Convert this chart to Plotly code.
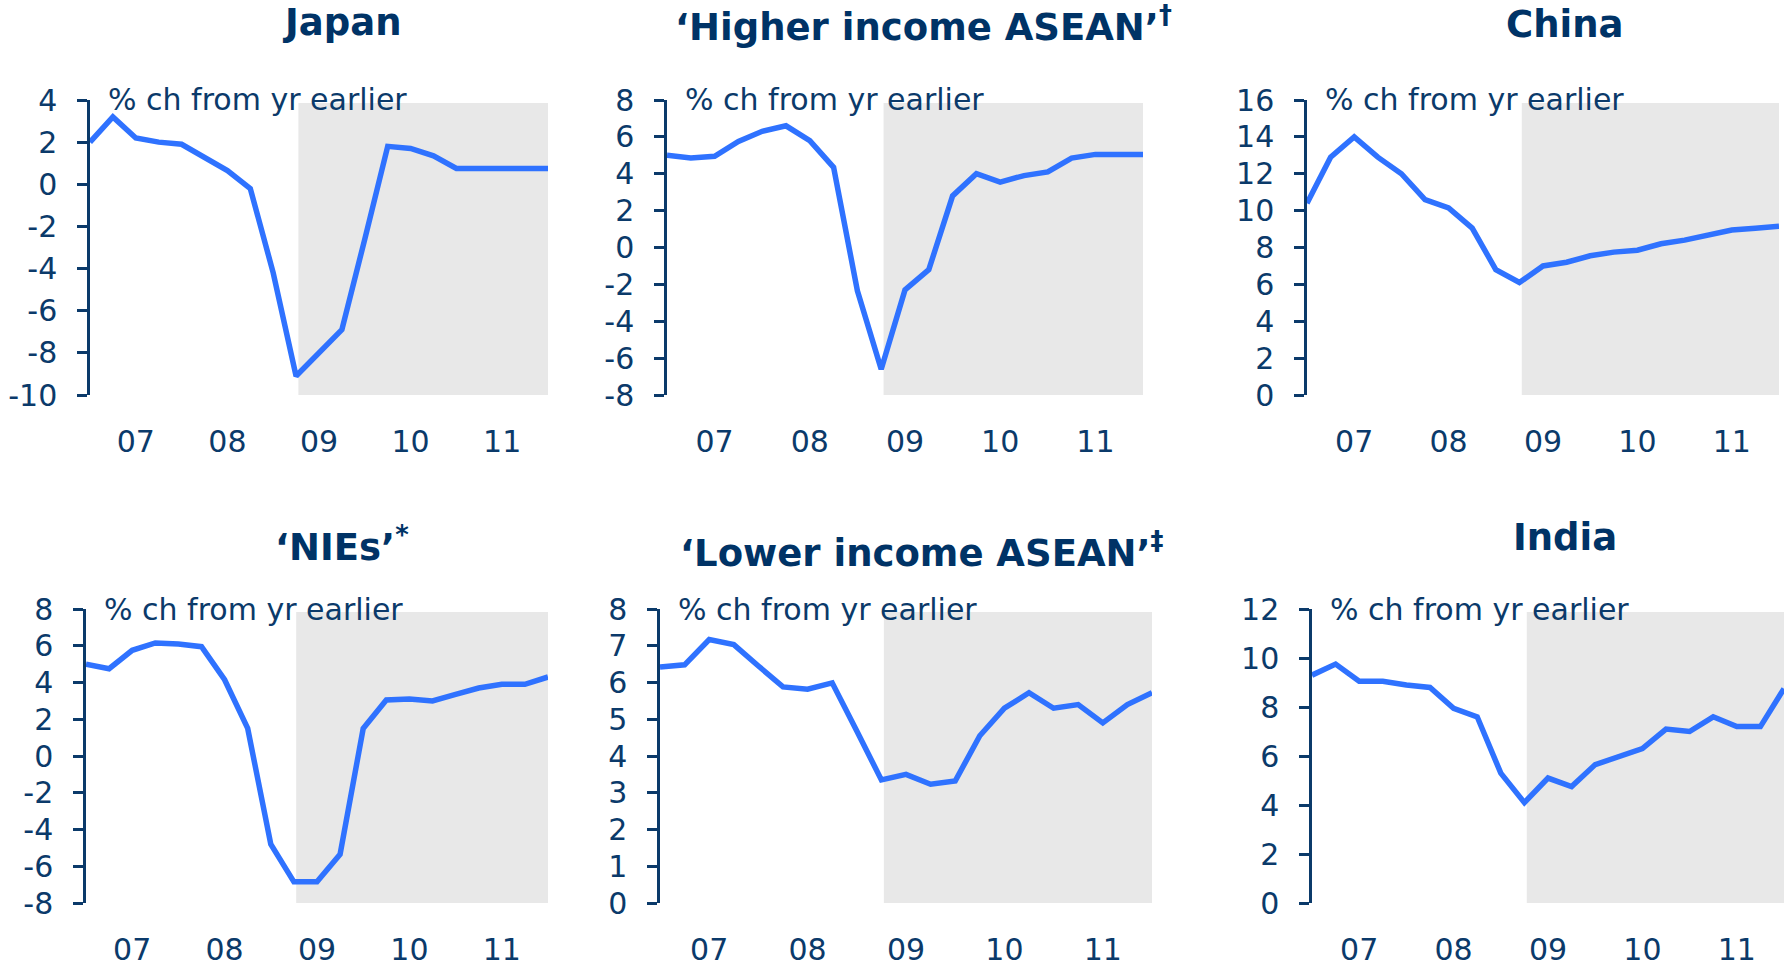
"""
Six-panel GDP growth chart (Asia), % change from a year earlier.
"""

import plotly.graph_objects as go

W, H = 1787, 968

# quarterly points, index 0..20 (ticks every 4 = year boundaries)
quarters = list(range(21))
year_labels = ['07', '08', '09', '10', '11']
year_label_pos = [2, 6, 10, 14, 18]
year_tick_pos = [0, 4, 8, 12, 16, 20]
forecast_start = 9.1

japan = [2.0, 3.2, 2.2, 2.0, 1.9, 1.3, 0.65, -0.2, -4.2, -9.1, -8.0, -6.9,
         -2.6, 1.8, 1.7, 1.35, 0.75, 0.75, 0.75, 0.75, 0.75]
higher_asean = [5.0, 4.85, 4.95, 5.75, 6.3, 6.6, 5.8, 4.35, -2.35, -6.6, -2.3,
                -1.2, 2.8, 4.0, 3.55, 3.9, 4.1, 4.85, 5.05, 5.05, 5.05]
china = [10.4, 12.9, 14.0, 12.9, 12.0, 10.6, 10.15, 9.05, 6.8, 6.1, 7.0, 7.2,
         7.55, 7.75, 7.85, 8.2, 8.4, 8.7, 8.95, 9.05, 9.15]
nies = [5.0, 4.75, 5.75, 6.15, 6.1, 5.95, 4.15, 1.5, -4.8, -6.85, -6.85, -5.35,
        1.5, 3.05, 3.1, 3.0, 3.35, 3.7, 3.9, 3.9, 4.3]
lower_asean = [6.42, 6.48, 7.17, 7.03, 6.45, 5.88, 5.82, 5.99, 4.68, 3.35, 3.5,
               3.23, 3.32, 4.55, 5.3, 5.72, 5.3, 5.4, 4.9, 5.4, 5.72]
india = [9.3, 9.75, 9.05, 9.05, 8.9, 8.8, 7.95, 7.6, 5.3, 4.1, 5.1, 4.75,
         5.65, 5.95, 6.3, 7.1, 7.0, 7.6, 7.2, 7.2, 8.75]

titles = ['Japan', '‘Higher income ASEAN’<sup>†</sup>', 'China',
          '‘NIEs’<sup>*</sup>', '‘Lower income ASEAN’<sup>‡</sup>', 'India']
series = [japan, higher_asean, china, nies, lower_asean, india]
y_ranges = [(-10, 4), (-8, 8), (0, 16), (-8, 8), (0, 8), (0, 12)]
y_dticks = [2, 2, 2, 2, 1, 2]

# panel plot areas in pixels: left, right, top, bottom
panels = [
    (90, 548, 100, 395), (667, 1143, 100, 395), (1307, 1779, 100, 395),
    (86, 548, 609, 903), (660, 1152, 609, 903), (1312, 1784, 609, 903),
]
title_pos = [(342, 23), (923, 24), (1565, 25), (342, 544), (922, 550), (1565, 537)]

NAVY = '#0b3a6a'
TITLE_NAVY = '#003366'
BLUE = '#2f72ff'
GREY = '#e8e8e8'
FONT = 'DejaVu Sans'


def px_x(p):
    return p / W


def px_y(p):
    return 1 - p / H


fig = go.Figure()
layout = {}
annotations = []
shapes = []

for i, (vals, yr) in enumerate(zip(series, y_ranges)):
    n = i + 1
    sfx = '' if n == 1 else str(n)
    l, r, t, b = panels[i]
    xdom = [px_x(l), px_x(r)]
    ydom = [px_y(b), px_y(t)]
    ymin, ymax = yr

    xa_lab = 'x' if n == 1 else f'x{2 * n - 1}'
    ya = f'y{sfx}'

    fig.add_trace(go.Scatter(
        x=quarters, y=vals, mode='lines',
        line=dict(color=BLUE, width=5.5),
        xaxis=xa_lab, yaxis=ya, showlegend=False, hoverinfo='skip'
    ))

    zero_pos = ydom[0] + (0 - ymin) / (ymax - ymin) * (ydom[1] - ydom[0])

    # bottom axis: year labels only
    layout['xaxis' + ('' if n == 1 else str(2 * n - 1))] = dict(
        domain=xdom, range=[0, 20], anchor=ya, automargin=False,
        tickvals=year_label_pos, ticktext=year_labels,
        ticks='outside', ticklen=20, tickcolor='rgba(0,0,0,0)',
        showline=False, showgrid=False, zeroline=False,
        tickfont=dict(family=FONT, size=30, color=NAVY),
    )
    # axis line + year ticks at y = 0
    layout['xaxis' + str(2 * n)] = dict(
        domain=xdom, range=[0, 20], overlaying=xa_lab, anchor='free',
        position=zero_pos, tickvals=year_tick_pos, showticklabels=False,
        ticks='outside', ticklen=11, tickwidth=2.5, tickcolor=NAVY,
        showline=True, linecolor=NAVY, linewidth=2.5, automargin=False,
        showgrid=False, zeroline=False,
    )
    yvals = list(range(ymin, ymax + 1, y_dticks[i]))
    layout['yaxis' + sfx] = dict(
        domain=ydom, range=[ymin, ymax], anchor=xa_lab, automargin=False,
        tickvals=yvals, ticktext=[str(v) for v in yvals],
        ticks='outside', ticklen=10, tickwidth=2.5, tickcolor=NAVY,
        ticklabelstandoff=14,
        showline=True, linecolor=NAVY, linewidth=2.5,
        showgrid=False, zeroline=False,
        tickfont=dict(family=FONT, size=30, color=NAVY),
    )

    shapes.append(dict(
        type='rect', xref=xa_lab, yref=f'{ya} domain',
        x0=forecast_start, x1=20, y0=0, y1=0.99,
        fillcolor=GREY, line=dict(width=0), layer='below'
    ))

    annotations.append(dict(
        text='% ch from yr earlier', xref='paper', yref='paper',
        x=px_x(l + 16), y=px_y(t), xanchor='left', yanchor='middle',
        showarrow=False, font=dict(family=FONT, size=30, color=NAVY)
    ))
    tx, ty = title_pos[i]
    annotations.append(dict(
        text=f'<b>{titles[i]}</b>', xref='paper', yref='paper',
        x=px_x(tx), y=px_y(ty), xanchor='center', yanchor='middle',
        showarrow=False, font=dict(family=FONT, size=37, color=TITLE_NAVY)
    ))

fig.update_layout(
    **layout,
    width=W, height=H,
    margin=dict(l=0, r=0, t=0, b=0),
    plot_bgcolor='white', paper_bgcolor='white',
    shapes=shapes, annotations=annotations,
    showlegend=False,
)

# drop the default page margin so the figure sits at the window origin
fig.write_html("out.html", config={'displayModeBar': False},
               post_script="document.body.style.margin = '0';")
